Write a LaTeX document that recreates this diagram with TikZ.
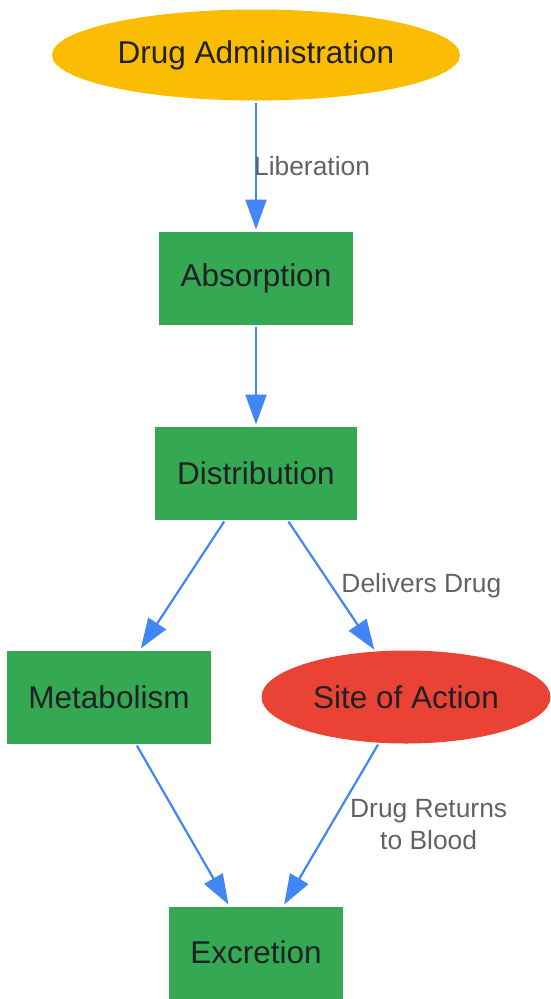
\documentclass[tikz,border=0pt]{standalone}
\usepackage{fontspec}
\setmainfont{Liberation Sans}
\usepackage{xcolor}
\usetikzlibrary{arrows.meta, positioning, shapes.geometric}
\definecolor{gyellow}{HTML}{FBBC04}
\definecolor{ggreen}{HTML}{34A853}
\definecolor{gred}{HTML}{EA4335}
\definecolor{gblue}{HTML}{4285F4}
\definecolor{gtext}{HTML}{202124}
\definecolor{glabel}{HTML}{5F6368}
\begin{document}
\begin{tikzpicture}[
    x=1pt, y=1pt,
    block/.style={rectangle, fill=ggreen, text=gtext, inner sep=0pt, minimum height=93pt, outer sep=2pt, font=\fontsize{31.5}{38}\selectfont},
    oval/.style={ellipse, text=gtext, inner sep=0pt, outer sep=2pt, font=\fontsize{31.5}{38}\selectfont},
    arrow/.style={-{Triangle[length=30pt, width=21pt]}, draw=gblue, line width=2.2pt},
    lbl/.style={anchor=west, inner sep=0pt, text=glabel, align=center, font=\fontsize{26.4}{32}\selectfont}
]
\useasboundingbox (0,0) rectangle (551,-999);
\node[oval, fill=gyellow, minimum width=408pt, minimum height=91pt] (admin) at (256,-55) {Drug Administration};
\node[block, minimum width=194pt, below=127pt of admin] (absorb) {Absorption};
\node[block, minimum width=202pt, below=98pt of absorb] (distrib) {Distribution};
\node[block, minimum width=204pt, below=127pt of distrib, xshift=-147pt] (metab) {Metabolism};
\node[oval, fill=gred, minimum width=289pt, minimum height=93pt, below=127pt of distrib, xshift=150pt] (site) {Site of Action};
\node[block, minimum width=174pt, minimum height=92pt, below=159pt of metab, xshift=147pt] (excr) {Excretion};

\draw[arrow] (admin) -- node[lbl, xshift=-3pt] {Liberation} (absorb);
\draw[arrow] (absorb) -- (distrib);
\draw[arrow] (distrib) -- (metab);
\draw[arrow] (distrib) -- node[lbl, xshift=9pt] {Delivers Drug} (site);
\draw[arrow] (metab) -- (excr);
\draw[arrow] (site) -- node[lbl, xshift=18pt] {Drug Returns\\to Blood} (excr);
\end{tikzpicture}
\end{document}
